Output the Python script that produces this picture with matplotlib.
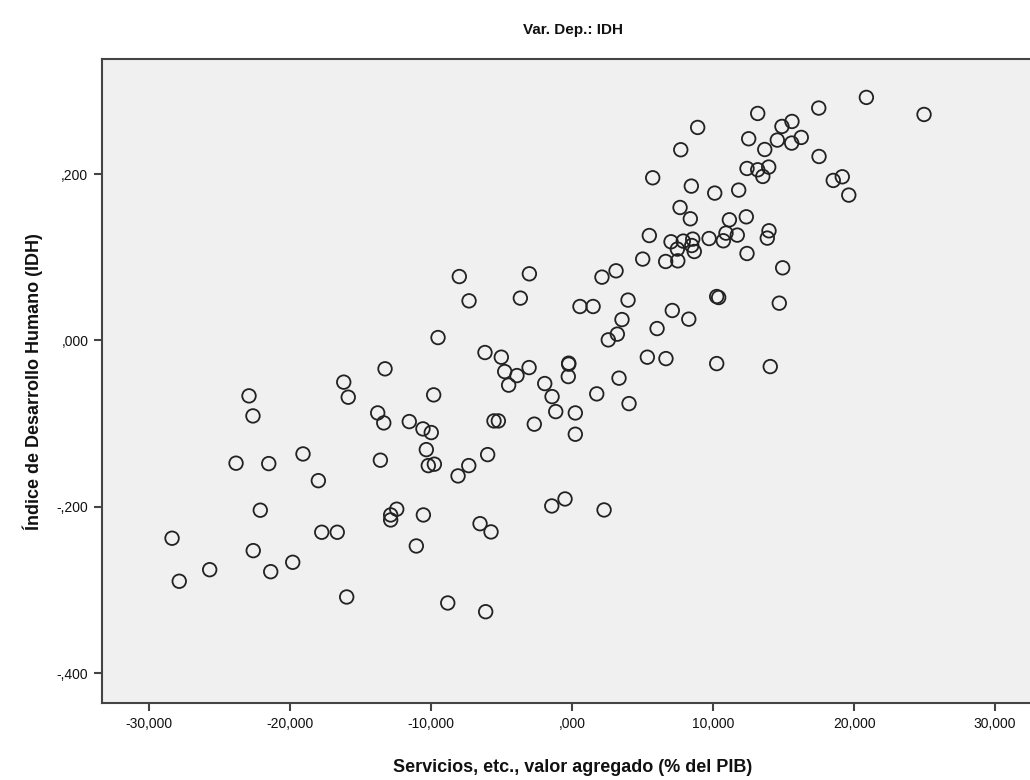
import matplotlib
matplotlib.use("Agg")
import matplotlib.pyplot as plt
from matplotlib.ticker import FuncFormatter

plt.rcParams['font.family'] = ['Liberation Sans Narrow', 'Liberation Sans', 'DejaVu Sans']

# Partial regression residuals: services value added (% of GDP) vs HDI
servicios = [
    -16.21, -15.89, -22.93, -22.65, -19.10, -23.85, -21.53, -18.01, -22.13, -28.39,
    -17.77, -16.67, -22.63, -25.72, -27.88, -21.39, -19.83, -16.00,
    -8.01, -3.04, -7.32, -3.68, 0.55, 1.48, -9.52, -6.19, -5.03, -4.79,
    -3.92, -3.06, -4.51, -0.25, -0.25, -0.28, -1.95, -1.43, -1.17, 0.22,
    0.22, -2.69, -13.28, -9.83, -13.80, -13.37, -11.56, -10.59, -10.00, -10.35,
    -10.21, -9.78, -13.61, -8.10, -7.34, -6.00, -5.55, -5.24, -12.45, -12.88,
    -12.88, -10.56, -11.06, -6.54, -5.76, -1.45, -0.51, 2.26, -8.83, -6.14,
    7.65, 8.38, 11.15, 12.35, 5.47, 7.01, 7.88, 8.55, 8.48, 8.66,
    7.46, 9.71, 10.72, 10.91, 11.71, 13.96, 13.84, 12.40, 14.93, 5.00,
    6.63, 7.49, 2.11, 3.11, 3.96, 3.53, 3.20, 2.56, 7.10, 8.27,
    6.02, 10.25, 10.39, 14.69, 5.33, 6.65, 10.25, 14.05, 3.32, 1.74,
    4.03,
    20.87, 24.96, 17.49, 13.16, 15.59, 14.88, 8.90, 12.52, 14.55, 16.25,
    15.57, 13.66, 7.70, 17.51, 12.40, 13.16, 13.94, 13.52, 18.52, 19.16,
    19.62, 5.71, 8.45, 10.11, 11.81,
]

idh = [
    -0.0501, -0.0682, -0.0666, -0.0907, -0.1364, -0.1475, -0.1480, -0.1685, -0.2040, -0.2377,
    -0.2305, -0.2305, -0.2526, -0.2755, -0.2894, -0.2779, -0.2666, -0.3083,
    0.0768, 0.0801, 0.0476, 0.0509, 0.0408, 0.0408, 0.0035, -0.0145, -0.0201, -0.0374,
    -0.0422, -0.0326, -0.0537, -0.0273, -0.0285, -0.0434, -0.0518, -0.0675, -0.0855, -0.0871,
    -0.1127, -0.1006, -0.0341, -0.0654, -0.0871, -0.0991, -0.0975, -0.1063, -0.1107, -0.1312,
    -0.1504, -0.1487, -0.1439, -0.1628, -0.1504, -0.1372, -0.0967, -0.0967, -0.2028, -0.2097,
    -0.2157, -0.2097, -0.2470, -0.2202, -0.2301, -0.1989, -0.1905, -0.2037, -0.3155, -0.3260,
    0.1598, 0.1462, 0.1450, 0.1486, 0.1261, 0.1186, 0.1194, 0.1218, 0.1141, 0.1069,
    0.1098, 0.1225, 0.1198, 0.1290, 0.1266, 0.1318, 0.1230, 0.1045, 0.0873, 0.0978,
    0.0949, 0.0957, 0.0761, 0.0837, 0.0485, 0.0251, 0.0076, 0.0007, 0.0360, 0.0256,
    0.0143, 0.0528, 0.0516, 0.0448, -0.0201, -0.0218, -0.0278, -0.0314, -0.0453, -0.0642,
    -0.0759,
    0.2921, 0.2716, 0.2793, 0.2728, 0.2632, 0.2572, 0.2560, 0.2424, 0.2408, 0.2440,
    0.2372, 0.2295, 0.2292, 0.2211, 0.2067, 0.2051, 0.2084, 0.1971, 0.1923, 0.1967,
    0.1747, 0.1955, 0.1855, 0.1771, 0.1807,
]

x_ticks = [-30, -20, -10, 0, 10, 20, 30]
y_ticks = [-0.4, -0.2, 0.0, 0.2]

titulo = "Var. Dep.: IDH"
etiqueta_x = "Servicios, etc., valor agregado (% del PIB)"
etiqueta_y = "Índice de Desarrollo Humano (IDH)"


def formato_coma(v, _pos=None):
    s = f"{v:.3f}".replace(".", ",")
    if s.startswith("0,"):
        s = s[1:]
    elif s.startswith("-0,"):
        s = "-" + s[2:]
    if s in ("-,000",):
        s = ",000"
    return s


fig = plt.figure(figsize=(10.3, 7.8), dpi=100, facecolor="white")
ax = fig.add_axes([0.0993, 0.0983, 0.9125, 0.8260])
ax.set_facecolor("#f0f0f0")

ax.scatter(servicios, idh, s=95, facecolors="none", edgecolors="#222222",
           linewidths=1.3, zorder=3)

ax.set_xlim(-33.34, 33.34)
ax.set_ylim(-0.4361, 0.3382)
ax.set_xticks(x_ticks)
ax.set_yticks(y_ticks)
ax.xaxis.set_major_formatter(FuncFormatter(formato_coma))
ax.yaxis.set_major_formatter(FuncFormatter(formato_coma))

for side in ("left", "bottom", "top", "right"):
    ax.spines[side].set_color("#444444")
    ax.spines[side].set_linewidth(1.5)

ax.tick_params(axis="both", direction="out", length=6, width=1.5,
               color="#444444", labelsize=10, labelcolor="#111111", pad=4)

ax.set_xlabel(etiqueta_x, fontsize=13, fontweight="bold", labelpad=20, color="#111111")
ax.set_ylabel(etiqueta_y, fontsize=13, fontweight="bold", labelpad=10, color="#111111")
fig.text(0.556, 0.962, titulo, ha="center", va="center", fontsize=11,
         fontweight="bold", color="#111111")

fig.savefig("out.png", dpi=100, facecolor="white")
